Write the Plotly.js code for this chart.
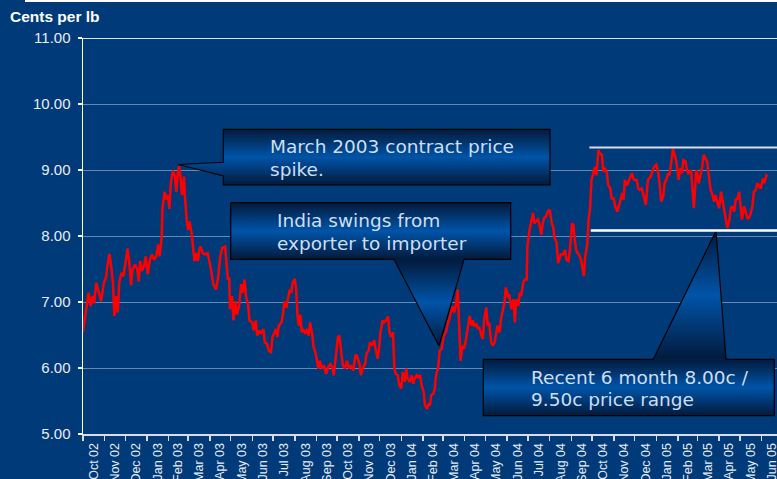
<!DOCTYPE html>
<html><head><meta charset="utf-8">
<script src="https://cdn.plot.ly/plotly-3.0.1.min.js"></script>
<style>html,body{margin:0;padding:0;background:#003a79;overflow:hidden;width:777px;height:479px}</style>
</head><body><div id="chart" style="width:790px;height:479px"></div>
<script>
const dates = [
"2002-10-01","2002-10-04","2002-10-09","2002-10-12","2002-10-15","2002-10-17","2002-10-20","2002-10-24","2002-10-27","2002-10-31",
"2002-11-03","2002-11-05","2002-11-08","2002-11-11","2002-11-13","2002-11-15","2002-11-18","2002-11-20","2002-11-22","2002-11-25","2002-11-28",
"2002-12-01","2002-12-04","2002-12-07","2002-12-09","2002-12-11","2002-12-15","2002-12-18","2002-12-20","2002-12-22","2002-12-25","2002-12-28","2002-12-30",
"2003-01-02","2003-01-05","2003-01-08","2003-01-11","2003-01-14","2003-01-17","2003-01-19","2003-01-22","2003-01-23","2003-01-26","2003-01-29","2003-01-31",
"2003-02-02","2003-02-04","2003-02-07","2003-02-10","2003-02-12","2003-02-14","2003-02-16","2003-02-18","2003-02-20","2003-02-23","2003-02-24","2003-02-27",
"2003-03-01","2003-03-03","2003-03-06","2003-03-08","2003-03-10","2003-03-13","2003-03-15","2003-03-17","2003-03-19","2003-03-22","2003-03-25","2003-03-29",
"2003-04-02","2003-04-06","2003-04-10","2003-04-13","2003-04-16","2003-04-19","2003-04-23","2003-04-25","2003-04-27","2003-04-29","2003-04-30",
"2003-05-03","2003-05-05","2003-05-08","2003-05-10","2003-05-13","2003-05-16","2003-05-18","2003-05-21","2003-05-23","2003-05-26","2003-05-28",
"2003-06-01","2003-06-03","2003-06-06","2003-06-08","2003-06-11","2003-06-13","2003-06-17","2003-06-19","2003-06-22","2003-06-25","2003-06-28","2003-06-30",
"2003-07-02","2003-07-05","2003-07-07","2003-07-09","2003-07-13","2003-07-15","2003-07-17","2003-07-20","2003-07-22","2003-07-25","2003-07-27","2003-07-29",
"2003-08-01","2003-08-03","2003-08-05","2003-08-07","2003-08-09","2003-08-11","2003-08-13","2003-08-16","2003-08-19","2003-08-21","2003-08-23","2003-08-26","2003-08-28","2003-08-31",
"2003-09-04","2003-09-06","2003-09-09","2003-09-12","2003-09-15","2003-09-18","2003-09-21","2003-09-24","2003-09-26","2003-09-29",
"2003-10-02","2003-10-04","2003-10-07","2003-10-09","2003-10-12","2003-10-15","2003-10-18","2003-10-21","2003-10-24","2003-10-27","2003-10-29",
"2003-11-02","2003-11-04","2003-11-07","2003-11-10","2003-11-12","2003-11-15","2003-11-17","2003-11-20","2003-11-23","2003-11-25","2003-11-28","2003-11-30",
"2003-12-02","2003-12-05","2003-12-07","2003-12-10","2003-12-13","2003-12-15","2003-12-17","2003-12-20","2003-12-22","2003-12-24","2003-12-27","2003-12-29",
"2004-01-01","2004-01-03","2004-01-06","2004-01-08","2004-01-10","2004-01-13","2004-01-16","2004-01-18","2004-01-20","2004-01-23","2004-01-25","2004-01-28","2004-01-30",
"2004-02-02","2004-02-04","2004-02-07","2004-02-09","2004-02-11","2004-02-13","2004-02-16","2004-02-18","2004-02-20","2004-02-23","2004-02-25","2004-02-28",
"2004-03-02","2004-03-05","2004-03-08","2004-03-10","2004-03-12","2004-03-15","2004-03-17","2004-03-19","2004-03-22","2004-03-24","2004-03-26","2004-03-29","2004-03-31",
"2004-04-03","2004-04-06","2004-04-08","2004-04-11","2004-04-13","2004-04-15","2004-04-18","2004-04-20","2004-04-22","2004-04-25","2004-04-27","2004-04-29",
"2004-05-02","2004-05-04","2004-05-06","2004-05-09","2004-05-11","2004-05-14","2004-05-16","2004-05-18","2004-05-21","2004-05-23","2004-05-26","2004-05-28","2004-05-30",
"2004-06-02","2004-06-04","2004-06-07","2004-06-10","2004-06-12","2004-06-14","2004-06-17","2004-06-19","2004-06-21","2004-06-24","2004-06-26","2004-06-29","2004-06-30",
"2004-07-03","2004-07-05","2004-07-08","2004-07-10","2004-07-13","2004-07-15","2004-07-17","2004-07-20","2004-07-22","2004-07-24","2004-07-27","2004-07-29",
"2004-08-01","2004-08-04","2004-08-06","2004-08-08","2004-08-11","2004-08-13","2004-08-17","2004-08-20","2004-08-23","2004-08-25","2004-08-28","2004-08-30",
"2004-09-02","2004-09-04","2004-09-06","2004-09-08","2004-09-10","2004-09-12","2004-09-15","2004-09-17","2004-09-19","2004-09-21","2004-09-24","2004-09-26","2004-09-28","2004-09-30",
"2004-10-03","2004-10-05","2004-10-07","2004-10-10","2004-10-12","2004-10-15","2004-10-17","2004-10-19","2004-10-22","2004-10-24","2004-10-27","2004-10-29",
"2004-11-01","2004-11-03","2004-11-06","2004-11-08","2004-11-10","2004-11-13","2004-11-15","2004-11-17","2004-11-20","2004-11-22","2004-11-24","2004-11-27","2004-11-29",
"2004-12-01","2004-12-04","2004-12-06","2004-12-08","2004-12-11","2004-12-13","2004-12-15","2004-12-17","2004-12-20","2004-12-22","2004-12-24","2004-12-27","2004-12-29",
"2005-01-01","2005-01-04","2005-01-06","2005-01-08","2005-01-11","2005-01-13","2005-01-16","2005-01-18","2005-01-20","2005-01-23","2005-01-25","2005-01-28","2005-01-30",
"2005-02-02","2005-02-05","2005-02-07","2005-02-09","2005-02-12","2005-02-14","2005-02-16","2005-02-18","2005-02-20","2005-02-22","2005-02-24","2005-02-27","2005-02-28",
"2005-03-03","2005-03-06","2005-03-08","2005-03-10","2005-03-13","2005-03-15","2005-03-17","2005-03-20","2005-03-22","2005-03-25","2005-03-27","2005-03-29",
"2005-04-01","2005-04-04","2005-04-06","2005-04-09","2005-04-11","2005-04-13","2005-04-16","2005-04-18","2005-04-20","2005-04-23","2005-04-25","2005-04-28","2005-04-30",
"2005-05-02","2005-05-04","2005-05-07","2005-05-09","2005-05-12","2005-05-14","2005-05-16","2005-05-19","2005-05-21","2005-05-24","2005-05-26","2005-05-28","2005-05-31",
"2005-06-03","2005-06-05","2005-06-08","2005-06-10"
];
const prices = [
6.55,6.77,7.14,6.94,7.09,6.98,7.29,7.14,7.01,7.29,
7.37,7.54,7.73,7.49,7.29,6.79,7.09,6.84,7.29,7.44,7.39,
7.59,7.81,7.54,7.25,7.49,7.57,7.49,7.31,7.62,7.47,7.57,7.69,
7.42,7.64,7.72,7.64,7.69,7.87,7.69,7.99,8.40,8.67,8.55,8.62,
8.41,8.80,8.99,8.90,8.67,8.95,9.06,8.90,8.62,8.90,8.65,8.22,
8.09,8.22,8.04,7.84,7.62,7.74,7.62,7.79,7.84,7.74,7.72,7.74,
7.54,7.27,7.19,7.37,7.69,7.82,7.84,7.59,7.34,7.37,6.89,
7.09,6.72,7.01,6.81,6.94,7.27,7.14,7.34,7.09,6.96,6.72,
6.69,6.57,6.72,6.49,6.57,6.52,6.59,6.39,6.37,6.26,6.24,6.47,
6.52,6.59,6.47,6.64,6.69,6.81,7.01,6.91,7.04,7.19,7.14,7.29,
7.35,7.19,6.79,6.64,6.81,6.54,6.59,6.52,6.59,6.49,6.69,6.52,6.32,6.22,
5.99,6.11,5.99,6.04,5.91,6.01,6.06,6.01,5.89,6.14,
6.47,6.49,6.19,6.04,5.99,6.11,5.99,6.04,5.96,6.19,6.19,
6.06,5.89,6.01,6.06,6.22,6.26,6.39,6.34,6.42,6.29,6.14,6.29,
6.54,6.72,6.69,6.72,6.78,6.54,6.47,6.54,5.99,5.91,5.89,5.74,
5.69,5.94,5.79,5.99,5.84,5.79,5.89,5.76,5.84,5.89,5.86,5.89,5.74,
5.64,5.43,5.38,5.46,5.43,5.59,5.61,5.69,5.89,6.01,6.26,6.29,
6.49,6.54,6.69,6.74,6.84,6.94,6.84,6.94,7.19,6.49,6.11,6.34,6.29,
6.44,6.64,6.79,6.64,6.72,6.64,6.66,6.59,6.62,6.49,6.44,6.74,
6.92,6.64,6.69,6.39,6.34,6.39,6.49,6.64,6.54,6.74,6.89,6.99,7.22,
7.09,7.11,6.89,7.04,6.69,7.04,6.94,7.14,7.09,7.29,7.34,7.34,7.84,
8.09,8.19,8.35,8.19,8.22,8.25,8.19,8.02,8.19,8.27,8.30,8.37,
8.40,8.19,8.14,7.97,7.90,7.59,7.72,7.72,7.79,7.64,7.62,7.79,
8.19,8.17,7.94,7.79,7.74,7.72,7.64,7.54,7.39,7.69,7.87,8.27,8.42,8.85,
8.95,9.05,8.92,9.30,9.25,9.23,8.97,9.03,8.97,8.77,8.72,8.57,
8.57,8.45,8.37,8.47,8.52,8.65,8.55,8.85,8.77,8.82,8.87,8.95,8.87,
8.85,8.85,8.72,8.70,8.72,8.65,8.57,8.47,8.85,8.87,8.90,9.00,9.05,
9.08,8.95,8.77,8.52,8.60,8.80,8.87,8.95,8.92,9.15,9.32,9.20,9.12,
8.85,9.03,8.95,9.15,9.13,9.00,8.95,8.97,9.00,8.70,8.42,8.95,9.00,
8.80,8.97,9.05,9.23,9.18,9.13,8.95,8.70,8.65,8.52,8.62,8.55,
8.42,8.67,8.55,8.42,8.27,8.12,8.25,8.42,8.45,8.37,8.55,8.57,8.67,
8.47,8.25,8.45,8.37,8.27,8.27,8.32,8.45,8.67,8.70,8.80,8.77,8.72,
8.87,8.80,8.92,8.90
];
const yTickValues = [5, 6, 7, 8, 9, 10, 11];
const axisTitle = "Cents per lb";
const rangeLow = 8.085;
const rangeHigh = 9.34;
const rangeStart = "2004-09-27";
const xStart = "2002-10-01";
const xEnd = "2005-07-12";

const calloutText = {
  march: ["March 2003 contract price", "spike."],
  india: ["India swings from", "exporter to importer"],
  recent: ["Recent 6 month 8.00c /", "9.50c price range"]
};

// Callout geometry in page pixels (overlay axes map page pixels)
const callouts = [
  {fills: [[[223.3,550,550,223.3,223.3,178.5,223.3,223.3],[129.3,129.3,185,185,176,164.5,162.3,129.3]]],
   outline: [[223.3,550,550,223.3,223.3,178.5,223.3,223.3],[129.3,129.3,185,185,176,164.5,162.3,129.3]],
   text: calloutText.march, tx: 268, ty: [146, 169]},
  {fills: [[[230.7,510.7,510.7,230.7,230.7],[202.7,202.7,259.3,259.3,202.7]],
           [[394,464,439,394],[259.3,259.3,346,259.3]]],
   outline: [[230.7,510.7,510.7,464,439,394,230.7,230.7],[202.7,202.7,259.3,259.3,346,259.3,259.3,202.7]],
   text: calloutText.india, tx: 275.3, ty: [220.5, 243]},
  {fills: [[[483.3,774.3,774.3,483.3,483.3],[359.3,359.3,415.7,415.7,359.3]],
           [[653.3,716,726,653.3],[359.3,231,359.3,359.3]]],
   outline: [[483.3,653.3,716,726,774.3,774.3,483.3,483.3],[359.3,359.3,231,359.3,359.3,415.7,415.7,359.3]],
   text: calloutText.recent, tx: 529, ty: [377, 399.5]}
];

const grad = {type: 'vertical', colorscale: [[0,'#021a3c'],[0.5,'#0054a8'],[1,'#021a3c']]};
const traces = [{
  type: 'scatter', mode: 'lines', x: dates, y: prices,
  line: {color: '#ff0000', width: 2.5}, hoverinfo: 'skip', showlegend: false
}];
const annotations = [];
callouts.forEach(c => {
  c.fills.forEach(f => traces.push({
    type: 'scatter', mode: 'lines', x: f[0], y: f[1], xaxis: 'x2', yaxis: 'y2',
    fill: 'toself', fillgradient: grad, fillcolor: '#004690',
    line: {width: 0, color: 'rgba(0,0,0,0)'}, hoverinfo: 'skip', showlegend: false
  }));
  traces.push({
    type: 'scatter', mode: 'lines', x: c.outline[0], y: c.outline[1], xaxis: 'x2', yaxis: 'y2',
    line: {width: 1.2, color: '#000000'}, hoverinfo: 'skip', showlegend: false
  });
  c.text.forEach((t, i) => annotations.push({
    xref: 'x2', yref: 'y2', x: c.tx, y: c.ty[i], xanchor: 'left', yanchor: 'middle',
    text: t, showarrow: false,
    font: {family: 'DejaVu Sans, Verdana, sans-serif', size: 18.5, color: '#cddff4'}
  }));
});

const layout = {
  width: 790, height: 479,
  paper_bgcolor: '#003a79', plot_bgcolor: '#003a79',
  margin: {l: 83, r: 0, t: 38, b: 45, pad: 0},
  showlegend: false,
  title: {text: axisTitle, xref: 'container', yref: 'container', x: 10/790, xanchor: 'left',
          y: 1 - 17/479, yanchor: 'middle',
          font: {family: 'Liberation Sans, Arial, sans-serif', size: 15.5, color: '#ffffff', weight: 'bold'}},
  xaxis: {
    type: 'date', range: [xStart, xEnd], tick0: xStart, dtick: 'M1', tickformat: '%b %y',
    ticklabelmode: 'period', tickangle: -90, ticks: 'outside', ticklen: 5, tickwidth: 1.5,
    tickcolor: '#d8dce6', showline: true, linecolor: '#d8dce6', linewidth: 2,
    showgrid: false, zeroline: false, automargin: false, fixedrange: true, ticklabelstandoff: -3,
    tickfont: {family: 'Liberation Sans, Arial, sans-serif', size: 12.5, color: '#e8ecf4'}
  },
  yaxis: {
    range: [5, 11], tickmode: 'array', tickvals: yTickValues, tickformat: '.2f',
    ticks: 'outside', ticklen: 4, tickwidth: 1.5, tickcolor: '#ffffff',
    showline: true, linecolor: '#ffffff', linewidth: 1.5,
    showgrid: true, gridcolor: 'rgba(160,178,208,0.65)', gridwidth: 1,
    zeroline: false, automargin: false, fixedrange: true, ticklabelstandoff: 4,
    tickfont: {family: 'Liberation Sans, Arial, sans-serif', size: 15, color: '#e8ecf4'}
  },
  xaxis2: {overlaying: 'x', range: [83, 790], visible: false, fixedrange: true},
  yaxis2: {overlaying: 'y', range: [434, 38], visible: false, fixedrange: true},
  shapes: [
    {type: 'line', xref: 'paper', x0: 0, x1: 1, yref: 'y', y0: 11, y1: 11, line: {color: '#dfe3ea', width: 2}},
    {type: 'line', xref: 'x', x0: rangeStart, x1: xEnd, yref: 'y', y0: rangeHigh, y1: rangeHigh, line: {color: '#d5dcea', width: 2}},
    {type: 'line', xref: 'x', x0: "2004-09-29", x1: xEnd, yref: 'y', y0: rangeLow, y1: rangeLow, line: {color: '#ffffff', width: 2.5}},
    {type: 'rect', xref: 'paper', x0: -0.082, x1: 1.01, yref: 'paper', y0: 1.0909, y1: 1.1, fillcolor: '#ffffff', line: {width: 0}}
  ],
  annotations: annotations
};
Plotly.newPlot('chart', traces, layout, {displayModeBar: false, staticPlot: true});
</script></body></html>
